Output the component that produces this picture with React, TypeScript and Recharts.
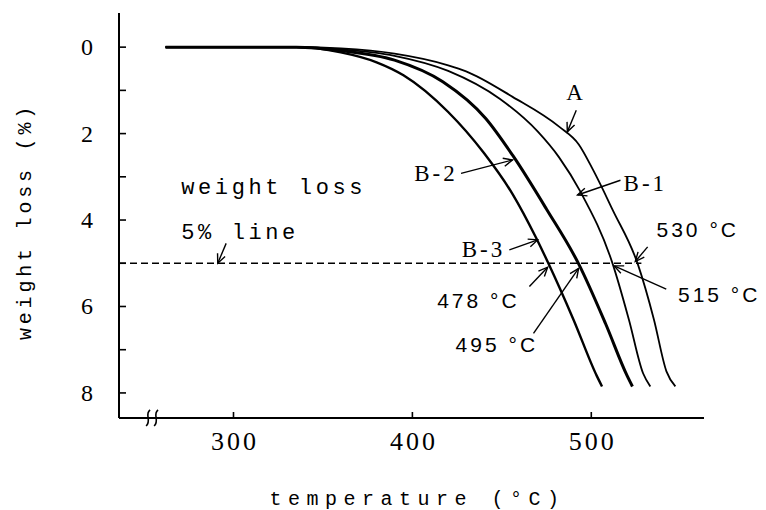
import React from 'react';
import { LineChart, Line, XAxis, YAxis, ReferenceLine, ReferenceDot, Label } from 'recharts';

// temperature ticks (°C) and weight loss ticks (%)
const tempTicks = [300, 400, 500];
const lossTicks = [0, 1, 2, 3, 4, 5, 6, 7, 8];

// curves: temperature (°C) -> weight loss (%)
const tempA = [262, 300, 335, 360, 390, 420, 430, 456, 482, 493, 501, 512, 526, 535, 542, 547];
const lossA = [0, 0, 0, 0.03, 0.15, 0.42, 0.56, 1.15, 1.84, 2.25, 2.84, 3.77, 5.02, 6.3, 7.5, 7.85];

const tempB1 = [262, 300, 335, 360, 390, 420, 449, 470, 482, 494, 512, 521, 529, 533];
const lossB1 = [0, 0, 0, 0.05, 0.2, 0.55, 1.2, 1.95, 2.55, 3.35, 5.02, 6.3, 7.55, 7.85];

const tempB2 = [262, 300, 335, 360, 390, 417, 441, 456, 475, 493, 508, 520, 523];
const lossB2 = [0, 0, 0, 0.08, 0.3, 0.8, 1.65, 2.5, 3.75, 5.02, 6.4, 7.6, 7.85];

const tempB3 = [262, 300, 335, 360, 380, 395, 420, 440, 456, 469, 476, 490, 503, 506];
const lossB3 = [0, 0, 0, 0.12, 0.35, 0.65, 1.5, 2.45, 3.4, 4.4, 5.0, 6.3, 7.6, 7.85];

// 5 % weight loss line
const lossLine = 5;
const lossLineEnd = 528;

// annotations: label, label position, arrow tail, arrow head (data coords)
const noteLabels = ['A', 'B-1', 'B-2', 'B-3', '478 °C', '495 °C', '530 °C', '515 °C'];
const noteText: [number, number][] = [
  [491.5, 1.06], [530.2, 3.15], [413.2, 2.92], [439.7, 4.69],
  [436.9, 5.85], [447.2, 6.89], [559.5, 4.23], [571.5, 5.73],
];
const noteFrom: [number, number][] = [
  [491.6, 1.46], [516.3, 3.08], [427.2, 2.92], [454.2, 4.69],
  [465.4, 5.54], [467.7, 6.62], [531.5, 4.62], [541.9, 5.6],
];
const noteTo: [number, number][] = [
  [486.6, 1.96], [492.3, 3.42], [456, 2.61], [470, 4.46],
  [475.6, 5.09], [492.9, 5.12], [524.6, 4.96], [512.8, 5.06],
];
const lineNote = ['weight loss', '5% line'];
const lineNoteAt: [number, number][] = [[270.8, 3.28], [270.8, 4.3]];
const lineNoteArrow: [number, number][] = [[295.9, 4.54], [291.2, 5.0]];

const zip = (t: number[], w: number[]) => t.map((v, i) => ({ t: v, w: w[i] }));
const seriesA = zip(tempA, lossA);
const seriesB1 = zip(tempB1, lossB1);
const seriesB2 = zip(tempB2, lossB2);
const seriesB3 = zip(tempB3, lossB3);

const SERIF = '"Liberation Serif", serif';
const SANS = '"Liberation Sans", sans-serif';
const MONO = '"Liberation Mono", monospace';

const YTick = (props: any) => {
  const { x, y, payload } = props;
  const v = payload.value;
  return (
    <g>
      <line x1={x} y1={y} x2={x + 7} y2={y} stroke="#000" strokeWidth={1.6} />
      {v % 2 === 0 && (
        <text x={x - 26} y={y} textAnchor="end" dominantBaseline="central"
          fontFamily={SERIF} fontSize={24} fill="#000">{v}</text>
      )}
    </g>
  );
};

const XTick = (props: any) => {
  const { x, y, payload } = props;
  return (
    <g>
      <line x1={x} y1={y} x2={x} y2={y - 6} stroke="#000" strokeWidth={1.6} />
      <text x={x + 1.5} y={y + 23} textAnchor="middle" dominantBaseline="central"
        fontFamily={SERIF} fontSize={26} letterSpacing={3} fill="#000">{payload.value}</text>
    </g>
  );
};

const Arrow = (p: any) => {
  const { x1, y1, x2, y2 } = p;
  const a = Math.atan2(y2 - y1, x2 - x1);
  const h = 10;
  const s = 0.42;
  const pts = `${x2 - h * Math.cos(a - s)},${y2 - h * Math.sin(a - s)} ${x2},${y2} ${x2 - h * Math.cos(a + s)},${y2 - h * Math.sin(a + s)}`;
  return (
    <g>
      <line x1={x1} y1={y1} x2={x2} y2={y2} stroke="#000" strokeWidth={1.4} />
      <polyline points={pts} fill="none" stroke="#000" strokeWidth={1.4} />
    </g>
  );
};

const noteFont = (label: string) => (label.includes('°') ? SANS : SERIF);

const BreakMark = (p: any) => {
  const { cx, cy } = p;
  const s = (x: number) => `M${x + 2},${cy - 8} C${x - 4},${cy - 4} ${x + 4},${cy + 3} ${x - 2},${cy + 8}`;
  return (
    <g>
      <path d={s(cx - 4)} fill="none" stroke="#000" strokeWidth={1.6} />
      <path d={s(cx + 4)} fill="none" stroke="#000" strokeWidth={1.6} />
    </g>
  );
};

export default function App() {
  return (
    <div style={{ position: 'absolute', left: 0, top: 0, background: '#fff' }}>
      <LineChart width={766} height={510} margin={{ top: 13, right: 62, left: 19, bottom: 32 }}>
        <XAxis type="number" dataKey="t" domain={[236, 563]} ticks={tempTicks} allowDataOverflow
          height={60} tickSize={0} tickMargin={0} tickLine={false} tick={<XTick />}
          axisLine={{ stroke: '#000', strokeWidth: 2 }}>
          <Label content={(p: any) => {
            const vb = p.viewBox;
            return (
              <text x={vb.x + vb.width / 2 + 6} y={vb.y + 81} textAnchor="middle" dominantBaseline="central"
                fontFamily={MONO} fontSize={20} letterSpacing={6.5} fill="#000">temperature (°C)</text>
            );
          }} />
        </XAxis>
        <YAxis type="number" domain={[-0.79, 8.58]} ticks={lossTicks} reversed allowDataOverflow
          width={100} tickSize={0} tickMargin={0} tickLine={false} tick={<YTick />}
          axisLine={{ stroke: '#000', strokeWidth: 2 }}>
          <Label content={(p: any) => {
            const vb = p.viewBox;
            const cx = vb.x + 6;
            const cy = vb.y + vb.height / 2 + 6;
            return (
              <text x={cx} y={cy} transform={`rotate(-90, ${cx}, ${cy})`} textAnchor="middle"
                dominantBaseline="central" fontFamily={MONO} fontSize={20} letterSpacing={3.8}
                fill="#000">weight loss (%)</text>
            );
          }} />
        </YAxis>

        <ReferenceLine segment={[{ x: 236, y: lossLine }, { x: lossLineEnd, y: lossLine }]}
          stroke="#000" strokeWidth={1.3} strokeDasharray="7 4" />

        <Line data={seriesA} dataKey="w" type="monotone" dot={false} stroke="#000" strokeWidth={1.8} isAnimationActive={false} />
        <Line data={seriesB1} dataKey="w" type="monotone" dot={false} stroke="#000" strokeWidth={1.8} isAnimationActive={false} />
        <Line data={seriesB2} dataKey="w" type="monotone" dot={false} stroke="#000" strokeWidth={3} isAnimationActive={false} />
        <Line data={seriesB3} dataKey="w" type="monotone" dot={false} stroke="#000" strokeWidth={2.4} isAnimationActive={false} />

        {noteLabels.map((lab, i) => (
          <ReferenceLine key={`a${i}`} ifOverflow="visible"
            segment={[{ x: noteFrom[i][0], y: noteFrom[i][1] }, { x: noteTo[i][0], y: noteTo[i][1] }]}
            shape={Arrow} />
        ))}
        {noteLabels.map((lab, i) => (
          <ReferenceDot key={`t${i}`} x={noteText[i][0]} y={noteText[i][1]} r={0} ifOverflow="visible"
            shape={(p: any) => (
              <text x={p.cx} y={p.cy} textAnchor="middle" dominantBaseline="central"
                fontFamily={noteFont(lab)} fontSize={lab.includes('°') ? 21 : 23}
                letterSpacing={3} fill="#000">{lab}</text>
            )} />
        ))}
        {lineNote.map((lab, i) => (
          <ReferenceDot key={`l${i}`} x={lineNoteAt[i][0]} y={lineNoteAt[i][1]} r={0} ifOverflow="visible"
            shape={(p: any) => (
              <text x={p.cx} y={p.cy} textAnchor="start" dominantBaseline="central"
                fontFamily={MONO} fontSize={22} letterSpacing={3.6} fill="#000">{lab}</text>
            )} />
        ))}
        <ReferenceLine ifOverflow="visible"
          segment={[{ x: lineNoteArrow[0][0], y: lineNoteArrow[0][1] }, { x: lineNoteArrow[1][0], y: lineNoteArrow[1][1] }]}
          shape={Arrow} />
        <ReferenceDot x={254.5} y={8.58} r={0} ifOverflow="visible" shape={BreakMark} />
      </LineChart>
    </div>
  );
}
